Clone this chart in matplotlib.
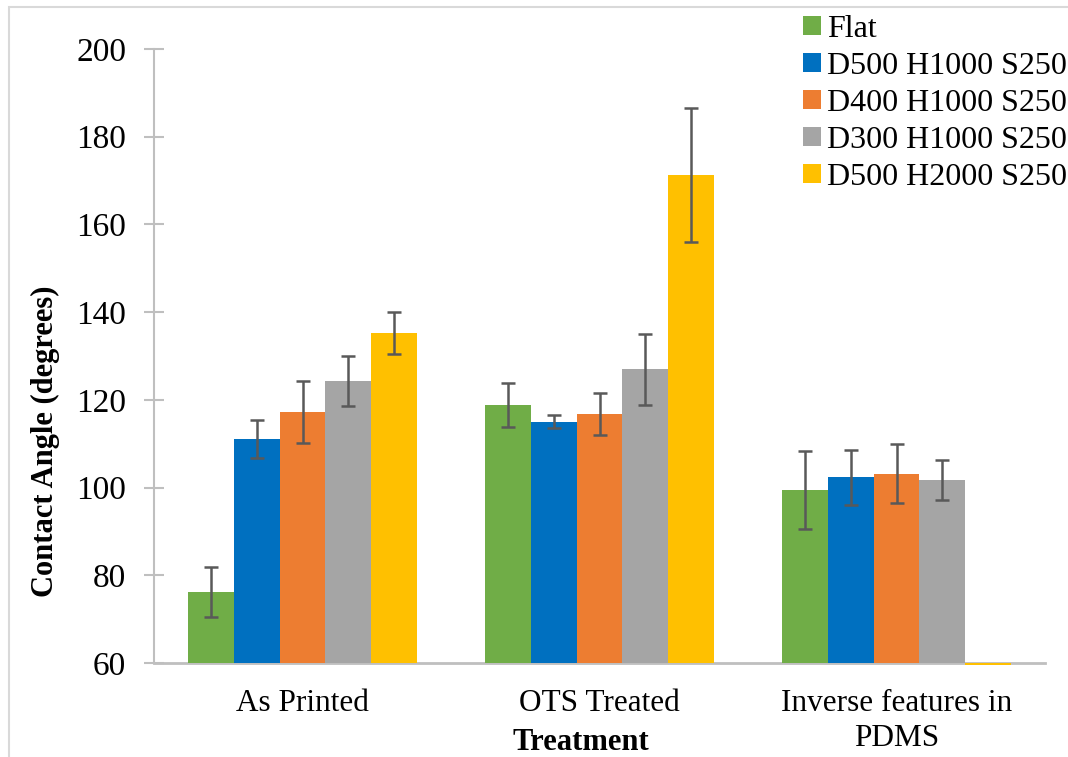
import matplotlib
matplotlib.use("Agg")
import matplotlib.pyplot as plt
import numpy as np
from matplotlib.patches import Rectangle

categories = ["As Printed", "OTS Treated", "Inverse features in\nPDMS"]
series_names = ["Flat", "D500 H1000 S250", "D400 H1000 S250", "D300 H1000 S250", "D500 H2000 S250"]
flat = [76.2, 118.8, 99.4]
d500_h1000 = [111.1, 115.0, 102.3]
d400_h1000 = [117.3, 116.7, 103.2]
d300_h1000 = [124.3, 127.0, 101.7]
d500_h2000 = [135.3, 171.3, 59.6]
flat_err = [5.8, 5.1, 8.9]
d500_h1000_err = [4.4, 1.5, 6.2]
d400_h1000_err = [7.1, 4.8, 6.7]
d300_h1000_err = [5.8, 8.1, 4.5]
d500_h2000_err = [4.8, 15.3, None]
colors = ["#70AD47", "#0070C0", "#ED7D31", "#A5A5A5", "#FFC000"]

values = [flat, d500_h1000, d400_h1000, d300_h1000, d500_h2000]
errors = [flat_err, d500_h1000_err, d400_h1000_err, d300_h1000_err, d500_h2000_err]

plt.rcParams['font.family'] = ['Liberation Serif', 'DejaVu Serif']

fig = plt.figure(figsize=(10.68, 7.57), dpi=100)
fig.patches.append(Rectangle((9/1068, -0.01), 1.1, 1 - 7/757 + 0.01, transform=fig.transFigure,
                             fill=False, edgecolor="#D9D9D9", linewidth=1.5))
ax = fig.add_axes([154/1068, 1 - 663/757, (1045 - 154)/1068, (663 - 49)/757])

base = 60
n = len(values)
bw = 1 / (n + 1.5)
x = np.arange(len(categories)) + 0.5
for i, (vals, errs, c, name) in enumerate(zip(values, errors, colors, series_names)):
    pos = x + (i - (n - 1) / 2) * bw
    heights = [v - base for v in vals]
    ax.bar(pos, heights, bw, bottom=base, color=c, label=name, clip_on=False, zorder=2)
    for p, v, e in zip(pos, vals, errs):
        if e is not None:
            ax.errorbar(p, v, yerr=e, color="#595959", elinewidth=1.8, capsize=5,
                        capthick=1.8, zorder=3)

ax.set_xlim(0, 3)
ax.set_ylim(60, 200)
ax.set_yticks(np.arange(60, 201, 20))
ax.set_xticks(x)
ax.set_xticklabels(categories, fontsize=22.5, linespacing=1.27)
ax.tick_params(axis='x', length=0, pad=19)
ax.tick_params(axis='y', direction='inout', length=14, width=1.5, color="#BFBFBF",
               labelsize=24, pad=13)
for s in ["top", "right"]:
    ax.spines[s].set_visible(False)
ax.spines["left"].set_color("#BFBFBF")
ax.spines["left"].set_linewidth(1.5)
ax.spines["bottom"].set_color("#BFBFBF")
ax.spines["bottom"].set_linewidth(2)
ax.spines["bottom"].set_zorder(1)

fig.text(45/1068, 1 - 441/757, "Contact Angle (degrees)", rotation=90, fontsize=22,
         fontweight="bold", ha="center", va="center")
fig.text(581/1068, 1 - 743/757, "Treatment", fontsize=22, fontweight="bold",
         ha="center", va="center")

leg = ax.legend(loc="upper left", bbox_to_anchor=(803/1068, 1 - 15/757), bbox_transform=fig.transFigure,
                frameon=False, fontsize=23, handlelength=0.55, handleheight=0.55,
                handletextpad=0.2, labelspacing=0.25, borderaxespad=0, borderpad=0)

fig.savefig("out.png", dpi=100)
